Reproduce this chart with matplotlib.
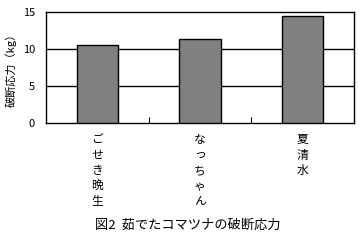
import matplotlib
matplotlib.use('Agg')
import matplotlib.pyplot as plt

plt.rcParams['font.family'] = ['Noto Sans CJK JP', 'DejaVu Sans']

varieties = ['ごせき晩生', 'なっちゃん', '夏清水']
stress = [10.6, 11.4, 14.5]

fig = plt.figure(figsize=(3.59, 2.41), dpi=100)
ax = fig.add_axes([46/359, 1-123/241, 308/359, 111/241])

x = range(len(varieties))
ax.bar(x, stress, width=0.4, color='#808080', edgecolor='black', linewidth=1, zorder=3)

ax.set_ylim(0, 15)
ax.set_xlim(-0.5, 2.5)
ax.set_yticks([0, 5, 10, 15])
ax.set_yticklabels(['0', '5', '10', '15'], fontsize=8)
for yv in [5, 10]:
    ax.axhline(yv, color='black', linewidth=1, zorder=1)
for s in ax.spines.values():
    s.set_linewidth(1)
ax.tick_params(axis='y', length=0, pad=8)
ax.set_xticks([0.5, 1.5])
ax.set_xticklabels([])
ax.tick_params(axis='x', direction='in', length=4)

for i, name in enumerate(varieties):
    ax.text(i, -0.09, '\n'.join(name), transform=ax.get_xaxis_transform(),
            ha='center', va='top', fontsize=8.5, linespacing=1.26)

ax.set_ylabel('破断応力（kg）', fontsize=8, labelpad=4)

fig.text(188/359, 1-225/241, '図2  茹でたコマツナの破断応力', ha='center', va='center', fontsize=9.5)

fig.savefig('out.png', dpi=100)
